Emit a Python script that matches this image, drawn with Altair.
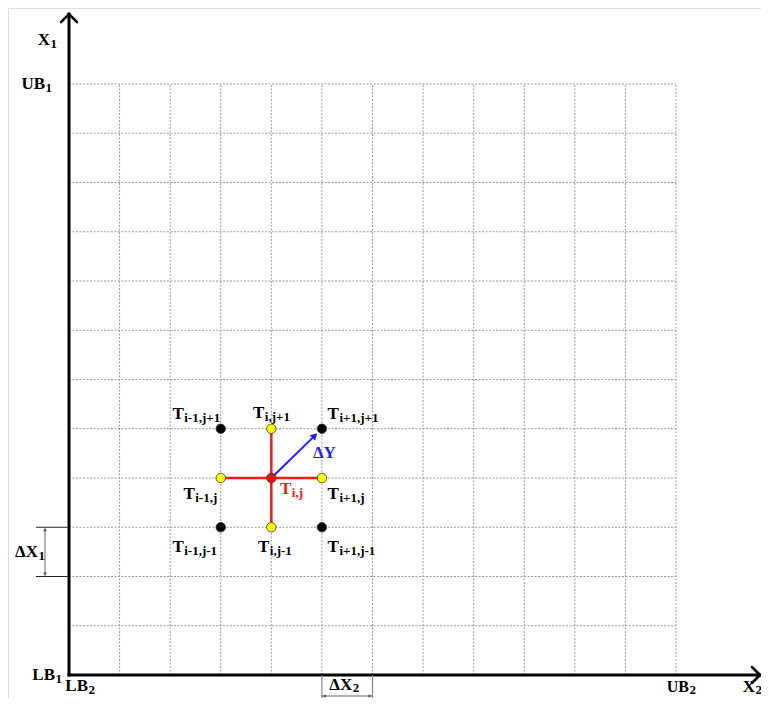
import altair as alt
import pandas as pd

# ---------------- data ----------------
grid_lines = list(range(1, 13))          # dotted grid positions (both directions)
grid_max = 12
axis_x_end = 13.66                        # X2 axis arrow tip
axis_y_end = 13.42                        # X1 axis arrow tip

node_i = [3, 4, 5, 3, 4, 5, 3, 4, 5]
node_j = [5, 5, 5, 4, 4, 4, 3, 3, 3]
node_kind = ["corner", "edge", "corner", "edge", "center", "edge", "corner", "edge", "corner"]
node_sub = ["i-1,j+1", "i,j+1", "i+1,j+1", "i-1,j", "i,j", "i+1,j", "i-1,j-1", "i,j-1", "i+1,j-1"]

# red stencil cross (x, y) -> (x2, y2)
cross_x = [3, 4]
cross_y = [4, 3]
cross_x2 = [5, 4]
cross_y2 = [4, 5]

# blue ΔY arrow
dy_from = (4, 4)
dy_to = (4.86, 4.86)

# ---------------- layout ----------------
W, H = 753, 690
PX0, PY0 = 61, 667          # plot-area pixel of grid origin
UX, UY = 50.583, 49.25       # pixels per grid unit
x_dom = [-PX0 / UX, (W - PX0) / UX]
y_dom = [-(H - PY0) / UY, PY0 / UY]
FONT = "Liberation Serif"

# label offsets for node labels: (dx, dy) of the main/sub boundary & baseline
node_label_off = [(-37, -10), (-7, -11), (17, -10), (-26, 21), (20, 16),
                  (17, 21), (-37, 25), (-2, 25), (17, 25)]


def X(f):
    return alt.X(f, type="quantitative", scale=alt.Scale(domain=x_dom, nice=False, zero=False), axis=None)


def Y(f):
    return alt.Y(f, type="quantitative", scale=alt.Scale(domain=y_dom, nice=False, zero=False), axis=None)


def segs(rows, **mk):
    df = pd.DataFrame(rows, columns=["x", "y", "x2", "y2"])
    return alt.Chart(df).mark_rule(**mk).encode(x=X("x"), y=Y("y"), x2="x2:Q", y2="y2:Q")


def label(x, y, main, sub, dx, dy, color="black", size=17, subsize=13, align="right", subdy=3):
    df = pd.DataFrame({"x": [x], "y": [y], "main": [main], "sub": [sub]})
    base = alt.Chart(df)
    out = [base.mark_text(align=align, baseline="alphabetic", dx=dx, dy=dy, font=FONT,
                          fontWeight="bold", fontSize=size, color=color)
           .encode(x=X("x"), y=Y("y"), text="main:N")]
    if sub:
        out.append(base.mark_text(align="left", baseline="alphabetic", dx=dx + 0.5, dy=dy + subdy,
                                  font=FONT, fontWeight="bold", fontSize=subsize, color=color)
                   .encode(x=X("x"), y=Y("y"), text="sub:N"))
    return out


layers = []

# grid
vgrid = [(g, 0, g, grid_max) for g in grid_lines]
hgrid = [(0, g, grid_max, g) for g in grid_lines]
layers.append(segs(vgrid + hgrid, color="#9a9a9a", strokeWidth=1, strokeDash=[2, 1.5]))

# axes
layers.append(segs([(0, 0, 0, axis_y_end), (0, 0, axis_x_end, 0)],
                   color="black", strokeWidth=3, strokeCap="square"))
ax, ay = 8 / UX, 8 / UY
layers.append(segs([(0, axis_y_end, -ax, axis_y_end - ay), (0, axis_y_end, ax, axis_y_end - ay),
                    (axis_x_end, 0, axis_x_end - ax, ay), (axis_x_end, 0, axis_x_end - ax, -ay)],
                   color="black", strokeWidth=2.5, strokeCap="round"))

# ΔX1 dimension (between grid rows 2 and 3)
dimx = -24 / UX
ext_l = -33 / UX
layers.append(segs([(ext_l, 2, 0, 2), (ext_l, 3, 0, 3)], color="#222", strokeWidth=1.2))
layers.append(segs([(dimx, 2, dimx, 3)], color="#666", strokeWidth=1))
# ΔX2 dimension (between grid columns 5 and 6)
dimy = -21 / UY
ext_b = -23 / UY
layers.append(segs([(5, 0, 5, ext_b), (6, 0, 6, ext_b)], color="#888", strokeWidth=1.2))
layers.append(segs([(5, dimy, 6, dimy)], color="#666", strokeWidth=1))
for (px, py, shp) in [(dimx, 3 - 2.5 / UY, "triangle-up"), (dimx, 2 + 2.5 / UY, "triangle-down"),
                      (5 + 2.5 / UX, dimy, "triangle-left"), (6 - 2.5 / UX, dimy, "triangle-right")]:
    layers.append(alt.Chart(pd.DataFrame({"x": [px], "y": [py]})).mark_point(
        shape=shp, filled=True, size=14, color="#555", opacity=1).encode(x=X("x"), y=Y("y")))

# red stencil cross
layers.append(alt.Chart(pd.DataFrame({"x": cross_x, "y": cross_y, "x2": cross_x2, "y2": cross_y2}))
              .mark_rule(color="#ee1c1c", strokeWidth=2.5).encode(x=X("x"), y=Y("y"), x2="x2:Q", y2="y2:Q"))

# blue ΔY arrow
layers.append(segs([(dy_from[0], dy_from[1], dy_to[0], dy_to[1])], color="#1f1fff", strokeWidth=2))
layers.append(alt.Chart(pd.DataFrame({"x": [dy_to[0]], "y": [dy_to[1]]})).mark_point(
    shape="triangle-up", angle=46, filled=True, size=60, color="#1f1fff", opacity=1)
    .encode(x=X("x"), y=Y("y")))

# nodes
nodes = pd.DataFrame({"i": node_i, "j": node_j, "kind": node_kind, "sub": node_sub})
layers.append(alt.Chart(nodes).mark_circle(size=90, opacity=1, stroke="#333", strokeWidth=0.8).encode(
    x=X("i"), y=Y("j"),
    color=alt.Color("kind:N", scale=alt.Scale(domain=["corner", "edge", "center"],
                                               range=["#000000", "#ffff00", "#ee1111"]), legend=None)))

# node labels
for k in range(len(node_i)):
    dxk, dyk = node_label_off[k]
    col = "#ee1c1c" if node_kind[k] == "center" else "black"
    layers += label(node_i[k], node_j[k], "T", node_sub[k], dxk, dyk, color=col)

# axis / bound labels
layers += label(0, axis_y_end, "X", "1", -19, 31)
layers += label(0, grid_max, "UB", "1", -24, 5)
layers += label(0, 0, "LB", "1", -14, 5)
layers += label(0, 0, "LB", "2", 19, 16)
layers += label(grid_max, 0, "UB", "2", 13, 17, size=16, subdy=2)
layers += label(axis_x_end, 0, "X", "2", -5, 17, size=17, subdy=2)
layers += label(dimx, 2.5, "ΔX", "1", -7, 5)
layers += label(5.5, dimy, "ΔX", "2", 5, -6, subdy=2)
layers += label(5, 5, "ΔY", "", -9, 29, color="#1f1fff", align="left")

chart = alt.layer(*layers).properties(
    width=W, height=H, autosize=alt.AutoSizeParams(type="none"), padding=0
).configure_view(stroke=None).configure(background="white")

chart.save("out.html", embed_options={"renderer": "svg", "actions": False})
